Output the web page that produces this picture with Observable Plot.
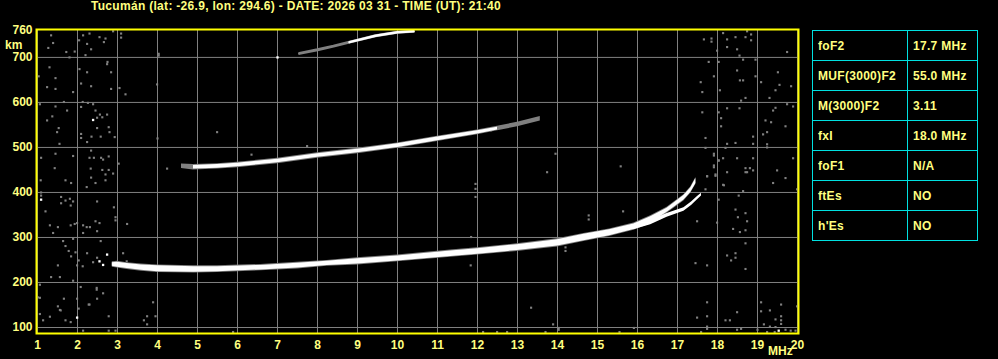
<!DOCTYPE html>
<html>
<head>
<meta charset="utf-8">
<script src="https://cdn.jsdelivr.net/npm/d3@7"></script>
<script src="https://cdn.jsdelivr.net/npm/@observablehq/plot@0.6"></script>
<style>
  html, body { margin: 0; padding: 0; background: #000; width: 998px; height: 359px; overflow: hidden; }
  #wrap { position: relative; width: 998px; height: 359px; }
  #chart { position: absolute; left: 0; top: 0; }
  #title { position: absolute; left: 91px; top: -1px; color: #ffff80; font: bold 12px "Liberation Sans", Arial, sans-serif; letter-spacing: 0.3px; white-space: nowrap; }
  #params { position: absolute; left: 812px; top: 30px; border-collapse: collapse; }
  #params td { border: 1px solid #00e0e0; height: 29px; padding: 0 0 0 5px; color: #ffff80; font: bold 12px "Liberation Sans", Arial, sans-serif; letter-spacing: 0.3px; white-space: nowrap; }
  #params td.n { width: 89px; }
  #params td.v { width: 64px; }
</style>
</head>
<body>
<div id="wrap">
  <div id="chart"></div>
  <div id="title"></div>
  <table id="params"></table>
</div>
<script>
// ---- texts ----
const titleText = "Tucumán (lat: -26.9, lon: 294.6) - DATE: 2026 03 31 - TIME (UT): 21:40";
const paramNames = ["foF2", "MUF(3000)F2", "M(3000)F2", "fxI", "foF1", "ftEs", "h'Es"];
const paramValues = ["17.7 MHz", "55.0 MHz", "3.11", "18.0 MHz", "N/A", "NO", "NO"];

// ---- axes ----
const freqTicks = d3.range(1, 21);               // MHz
const heightTicks = [100, 200, 300, 400, 500, 600, 700, 760]; // km
const heightGrid = [100, 200, 300, 400, 500, 600, 700];

// ---- first-hop F2 ordinary trace: frequency (MHz), lower / upper virtual height (km) ----
const oFreq = [2.87, 3.0, 3.24, 3.6, 4.0, 4.91, 5.5, 6.58, 7.5, 8.24, 9.0, 10.0, 11.33, 12.0, 12.99, 14.0, 14.66, 15.3, 15.91, 16.33, 16.74, 17.16, 17.33, 17.46];
const oLow  = [236, 234, 231, 227, 224, 223, 224, 228, 232, 238, 241, 248, 258, 263, 271, 281, 293, 304, 318, 332, 356, 383, 400, 420];
const oHigh = [244, 245, 242, 239, 237, 235, 235, 238, 243, 247, 253, 259, 270, 275, 284, 295, 307, 317, 330, 346, 365, 393, 410, 431];

// ---- first-hop F2 extraordinary trace ----
const xFreq = [15.9, 16.33, 16.74, 17.16, 17.35, 17.5, 17.6];
const xLow  = [317, 328, 345, 358, 371, 384, 392];
const xHigh = [326, 338, 353, 366, 379, 391, 398];

// ---- second-hop trace ----
const h2Freq = [4.6, 4.9, 5.5, 6.0, 7.0, 8.0, 9.0, 10.0, 11.0, 12.0, 12.5, 13.0, 13.57];
const h2Low  = [455, 452, 454, 457, 466, 478, 488, 500, 515, 530, 539, 548, 561];
const h2High = [461, 460, 462, 465, 474, 486, 496, 508, 523, 537, 545, 554, 567];

// ---- third-hop trace ----
const h3Freq = [7.55, 8.0, 8.4, 8.8, 9.45, 10.0, 10.4];
const h3Height = [709, 717, 725, 734, 748, 756, 758];

// ---- isolated bright echoes ----
const brightFreq = [7.0, 1.09, 2.74, 2.55, 2.64, 2.39, 1.99, 19.53];
const brightHeight = [700, 384, 262, 247, 239, 561, 122, 93];

// ---- scattered weak echoes (noise) ----
const noiseFreq = [
  1.34,1.39,1.27,2.14,2.3,2.04,2.24,2.34,2.55,2.7,2.66,2.89,3.09,3.09,1.93,
  1.3,1.03,1.45,2.05,2.24,2.74,2.84,2.09,2.34,1.24,1.45,1.89,2.84,3.05,3.2,
  1.66,2.13,2.26,1.06,1.45,2.09,2.39,1.74,2.45,2.56,2.49,2.62,2.74,1.24,1.37,1.53,1.49,2.09,2.35,2.49,2.78,2.8,2.09,1.55,2.24,2.58,2.93,2.34,
  1.09,1.45,1.89,2.3,2.41,2.59,2.64,2.78,3.03,1.43,2.33,2.62,2.78,2.7,2.89,2.34,1.08,1.7,1.84,2.45,2.7,
  1.09,1.09,1.2,1.59,1.7,1.59,1.81,1.89,1.83,2.23,2.49,2.45,2.55,2.91,2.95,2.95,1.31,1.51,1.83,1.93,1.99,2.14,2.23,2.31,2.49,1.39,2.14,3.24,
  1.64,1.89,2.58,1.7,1.78,1.95,1.84,2.24,2.03,2.13,1.99,2.39,2.49,1.51,3.14,3.23,1.34,1.56,1.89,1.06,2.08,2.48,2.48,2.64,1.01,1.06,1.66,1.99,2.49,2.28,2.03,1.51,1.58,1.31,1.06,1.14,1.7,1.83,2.78,2.14,2.78,2.95,
  1.56,2.3,3.89,3.74,3.95,3.66,3.74,5.89,12.14,12.49,
  13.34,12.74,13.7,13.89,14.03,14.03,15.55,15.91,17.49,17.59,17.74,17.74,17.74,17.74,18.2,18.31,18.49,18.49,18.59,19.0,19.09,19.09,19.16,19.31,19.31,19.45,19.45,19.59,19.59,19.59,19.59,19.7,19.83,19.95,19.99,19.24,19.43,
  17.85,17.85,17.66,18.14,18.24,18.45,18.7,18.84,18.84,18.74,18.24,18.49,18.55,17.99,19.74,18.64,18.95,17.78,18.03,18.49,17.91,18.95,18.56,18.64,17.58,19.09,19.51,19.55,19.84,18.06,19.45,18.7,18.59,19.3,17.62,17.62,18.03,18.24,18.55,19.74,19.89,19.45,19.39,18.09,18.09,19.2,19.34,19.7,19.24,19.14,18.89,17.7,18.24,18.45,18.89,19.24,19.24,18.2,17.7,17.91,17.91,18.03,18.14,18.49,18.89,19.89,17.91,17.91,17.95,17.95,18.7,18.81,18.7,18.74,18.89,18.24,19.49,17.74,19.7,19.39,18.14,17.7,19.99,
  15.58,13.74,11.95,11.95,11.95,15.64,14.78,14.78,11.84,14.2,14.2,11.83,17.49,17.74,18.16,18.03,17.99,18.45,18.51,18.7,18.74,18.53,18.64,18.39,18.56,18.7,18.7,18.24,18.45,18.34,18.45,17.45,17.74,18.7,18.03,
  4.03,4.03,5.49,4.24,6.35,7.74,13.95,12.33,3.99,4.0,1.72,1.8,2.2,2.75
];
const noiseHeight = [
  749,732,721,749,753,738,730,718,745,742,734,758,753,744,713,
  678,658,654,674,667,685,667,642,636,634,630,623,630,632,618,
  601,601,599,596,591,590,596,582,582,573,566,567,573,560,569,543,534,530,524,543,545,534,521,508,512,524,523,493,
  477,486,481,477,477,477,473,480,464,454,453,450,450,440,442,433,427,427,421,421,427,
  400,393,358,390,382,376,386,380,371,412,380,336,332,367,338,345,327,323,327,330,332,327,323,323,314,310,310,330,
  292,297,292,281,270,267,258,265,249,236,238,245,255,238,265,247,212,212,204,195,190,184,188,176,167,166,164,164,164,151,142,147,138,124,130,116,116,112,125,93,93,93,
  139,151,156,125,125,116,107,90,90,90,
  144,90,90,107,95,99,90,99,122,90,156,125,97,102,116,116,134,95,97,95,156,136,107,138,102,118,101,151,125,116,108,95,93,93,147,90,90,
  742,735,740,754,740,745,745,751,738,758,723,718,704,715,712,695,695,690,690,671,658,658,649,649,645,645,667,639,636,627,627,610,604,610,623,578,578,587,587,596,591,588,582,565,547,560,556,547,534,529,524,521,508,510,508,507,500,499,499,482,486,471,476,476,476,476,460,456,440,437,454,454,445,445,449,445,449,436,432,421,417,407,407,
  458,445,419,408,390,358,349,340,301,278,270,238,336,436,416,384,333,362,345,354,336,393,403,319,312,316,287,260,265,249,255,243,238,230,471,
  708,704,534,453,484,503,486,538,640,520,712,700,705,690
];

const oTrace = oFreq.map((f, i) => ({f, lo: oLow[i], hi: oHigh[i]}));
const xTrace = xFreq.map((f, i) => ({f, lo: xLow[i], hi: xHigh[i]}));
const hop2 = h2Freq.map((f, i) => ({f, lo: h2Low[i], hi: h2High[i]}));
const hop3 = h3Freq.map((f, i) => ({f, h: h3Height[i]}));
const bright = brightFreq.map((f, i) => ({f, h: brightHeight[i]}));
const noise = noiseFreq.map((f, i) => ({f, h: noiseHeight[i]}));

const grey = "#808080";
const yellowText = "#ffff80";

const chart = Plot.plot({
  width: 810,
  height: 359,
  marginLeft: 36,
  marginRight: 12,
  marginTop: 29,
  marginBottom: 26,
  style: {background: "#000", color: yellowText, fontFamily: "'Liberation Sans', Arial, sans-serif", fontSize: "12px", fontWeight: "bold", overflow: "visible"},
  x: {domain: [0.975, 20.025], ticks: freqTicks, tickFormat: d => String(d), tickSize: 0, tickPadding: 7, label: null},
  y: {domain: [86.7, 762], ticks: heightTicks, tickFormat: d => String(d), tickSize: 0, tickPadding: 4, label: null},
  marks: [
    Plot.ruleX(freqTicks, {stroke: grey, strokeWidth: 1}),
    Plot.ruleY(heightGrid, {stroke: grey, strokeWidth: 1}),
    Plot.dot(noise, {x: "f", y: "h", symbol: "square", r: 1.2, fill: grey, stroke: "none"}),
    Plot.areaY(hop2, {x: "f", y1: d => d.lo - 2, y2: d => d.hi + 2, fill: grey, curve: "linear"}),
    Plot.areaY(hop2, {filter: d => d.f >= 4.9 && d.f <= 12.5, x: "f", y1: "lo", y2: "hi", fill: "#fff", curve: "linear"}),
    Plot.line(hop3, {x: "f", y: "h", stroke: grey, strokeWidth: 3, curve: "linear"}),
    Plot.line(hop3, {filter: d => d.f >= 8.8, x: "f", y: "h", stroke: "#fff", strokeWidth: 2.5, curve: "linear"}),
    Plot.areaY(oTrace, {x: "f", y1: d => d.lo - 2, y2: d => d.hi + 2, fill: grey, curve: "linear"}),
    Plot.areaY(xTrace, {x: "f", y1: "lo", y2: "hi", fill: "#fff", curve: "linear"}),
    Plot.areaY(oTrace, {x: "f", y1: "lo", y2: "hi", fill: "#fff", curve: "linear"}),
    Plot.dot(bright, {x: "f", y: "h", symbol: "square", r: 1.3, fill: "#fff", stroke: "none"}),
    Plot.frame({stroke: "#ffff00", strokeWidth: 2})
  ]
});
document.getElementById("chart").append(chart);

// unit labels
const svg = d3.select(chart);
svg.append("text").attr("x", 5).attr("y", 49).attr("text-anchor", "start").attr("fill", yellowText)
  .attr("font-size", 12).attr("font-weight", "bold").text("km");
svg.append("text").attr("x", 768).attr("y", 355).attr("text-anchor", "start").attr("fill", yellowText)
  .attr("font-size", 12).attr("font-weight", "bold").text("MHz");

document.getElementById("title").textContent = titleText;
const table = d3.select("#params");
paramNames.forEach((n, i) => {
  const tr = table.append("tr");
  tr.append("td").attr("class", "n").text(n);
  tr.append("td").attr("class", "v").text(paramValues[i]);
});
</script>
</body>
</html>
